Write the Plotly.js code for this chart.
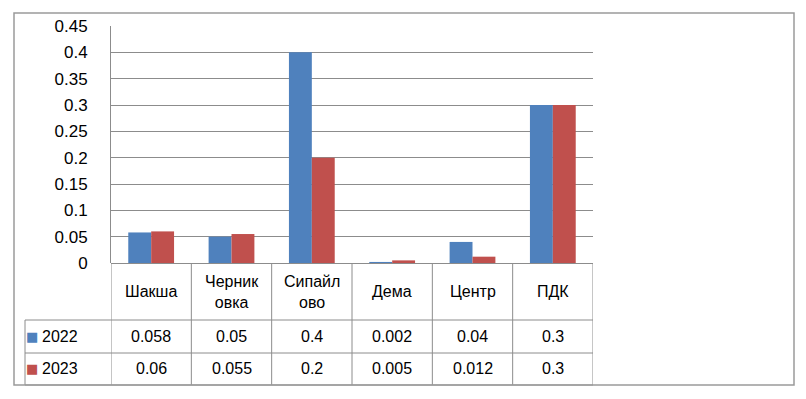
<!DOCTYPE html>
<html>
<head>
<meta charset="utf-8">
<script src="https://cdn.plot.ly/plotly-3.0.1.min.js"></script>
<style>html,body{margin:0;padding:0;background:#fff;}#chart{width:806px;height:399px;}</style>
</head>
<body>
<div id="chart"></div>
<script>
// ---- data ----
const categories = ["Шакша", "Черниковка", "Сипайлово", "Дема", "Центр", "ПДК"];
const headerLabels = ["Шакша", "Черник<br>овка", "Сипайл<br>ово", "Дема", "Центр", "ПДК"];
const seriesNames = ["2022", "2023"];
const values2022 = [0.058, 0.05, 0.4, 0.002, 0.04, 0.3];
const values2023 = [0.06, 0.055, 0.2, 0.005, 0.012, 0.3];
const tableText2022 = ["0.058", "0.05", "0.4", "0.002", "0.04", "0.3"];
const tableText2023 = ["0.06", "0.055", "0.2", "0.005", "0.012", "0.3"];

// ---- style ----
const colors = ["#4F81BD", "#C0504D"];
const FONT = "'Liberation Sans Narrow', 'Liberation Sans', Arial, sans-serif";
const lineColor = "#8C8C8C";
const plotL = 111, plotR = 593, plotT = 26, plotB = 263;
const W = 806, H = 399;
const px = X => (X - plotL) / (plotR - plotL);
const py = Y => (plotB - Y) / (plotB - plotT);

const seriesValues = [values2022, values2023];
const seriesText = [tableText2022, tableText2023];

const traces = seriesNames.map((n, i) => ({
  type: "bar", name: n, x: categories, y: seriesValues[i],
  marker: {color: colors[i], line: {width: 0}},
  hoverinfo: "skip"
}));

const shapes = [];
const annotations = [];
const rowY = [320, 353, 385];
rowY.forEach(Y => shapes.push({type: "line", xref: "paper", yref: "paper",
  x0: px(25), x1: px(593), y0: py(Y), y1: py(Y), line: {color: lineColor, width: 1}}));
for (let i = 0; i <= categories.length; i++) {
  shapes.push({type: "line", xref: "x", yref: "paper", x0: i - 0.5, x1: i - 0.5,
    y0: 0, y1: py(385), line: {color: lineColor, width: 1}});
}
shapes.push({type: "line", xref: "paper", yref: "paper", x0: px(25), x1: px(25),
  y0: py(320), y1: py(385), line: {color: lineColor, width: 1}});
// outer frame
shapes.push({type: "rect", xref: "paper", yref: "paper", x0: px(14), x1: px(794),
  y0: py(385), y1: py(13), line: {color: "#9A9A9A", width: 1.5}});

categories.forEach((c, i) => {
  annotations.push({xref: "x", yref: "paper", x: c, y: py(291.5), text: headerLabels[i],
    showarrow: false, xanchor: "center", yanchor: "middle",
    font: {family: FONT, size: 16, color: "#000"}});
  seriesText.forEach((arr, s) => {
    annotations.push({xref: "x", yref: "paper", x: c, y: py(s === 0 ? 336.5 : 369), text: arr[i],
      showarrow: false, xanchor: "center", yanchor: "middle",
      font: {family: FONT, size: 16, color: "#000"}});
  });
});
seriesNames.forEach((n, s) => {
  const yy = py(s === 0 ? 336.5 : 369);
  annotations.push({xref: "paper", yref: "paper", x: px(32), y: yy, text: "■",
    showarrow: false, xanchor: "center", yanchor: "middle",
    font: {family: "DejaVu Sans", size: 13, color: colors[s]}});
  annotations.push({xref: "paper", yref: "paper", x: px(40), y: yy, text: n,
    showarrow: false, xanchor: "left", yanchor: "middle",
    font: {family: FONT, size: 16, color: "#000"}});
});

const layout = {
  width: W, height: H,
  margin: {l: plotL, r: W - plotR, t: plotT, b: H - plotB, pad: 0},
  paper_bgcolor: "#fff", plot_bgcolor: "#fff",
  showlegend: false,
  barmode: "group", bargap: 0.43, bargroupgap: 0,
  font: {family: FONT, size: 16, color: "#000"},
  xaxis: {type: "category", showticklabels: false, showgrid: false, zeroline: false,
    showline: false, ticks: "", range: [-0.5, 5.5], fixedrange: true},
  yaxis: {range: [0, 0.45], dtick: 0.05, tick0: 0, showgrid: true, gridcolor: lineColor, gridwidth: 1,
    zeroline: true, zerolinecolor: lineColor, zerolinewidth: 1,
    showline: true, linecolor: lineColor, linewidth: 1,
    ticks: "outside", ticklen: 19, tickcolor: "rgba(0,0,0,0)",
    tickfont: {family: FONT, size: 17, color: "#000"}, fixedrange: true},
  shapes: shapes,
  annotations: annotations
};

Plotly.newPlot("chart", traces, layout, {displayModeBar: false, staticPlot: true});
</script>
</body>
</html>
